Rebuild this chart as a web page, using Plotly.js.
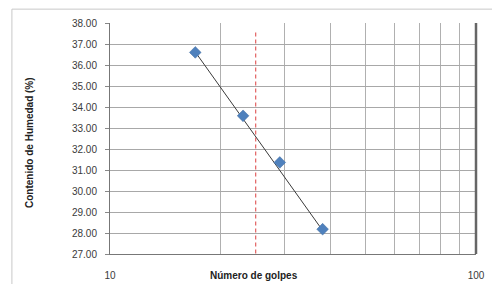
<!DOCTYPE html>
<html><head><meta charset="utf-8">
<script src="https://cdn.plot.ly/plotly-3.0.1.min.js"></script>
<style>html,body{margin:0;padding:0;background:#fff}</style>
</head><body><div id="chart" style="width:492px;height:284px"></div>
<script>
const golpes = [17.1, 23.1, 29.1, 38.1];
const humedad = [36.6, 33.58, 31.36, 28.18];
const trendX = [17.1, 38.1];
const trendY = [36.62, 28.12];
const refX = [25, 25];
const refY = [37.55, 27];
const xTickVals = [10, 100];
const xTickText = ['10', '100'];
const yTickVals = [27, 28, 29, 30, 31, 32, 33, 34, 35, 36, 37, 38];

const font = "'Liberation Sans', Arial, sans-serif";
const traces = [
  {x: refX, y: refY, mode: 'lines', line: {color: '#E46C6C', width: 1.3, dash: '4px,3px'}, hoverinfo: 'skip', showlegend: false},
  {x: trendX, y: trendY, mode: 'lines', line: {color: '#3a3a3a', width: 1}, showlegend: false},
  {x: golpes, y: humedad, mode: 'markers', marker: {symbol: 'diamond', size: 9, color: '#4F81BD', line: {color: '#3F6A9E', width: 0.5}}, showlegend: false}
];
const layout = {
  width: 492, height: 284,
  margin: {l: 110, r: 16, t: 23, b: 30},
  paper_bgcolor: '#fff', plot_bgcolor: '#fff',
  font: {family: font, size: 10, color: '#3a3a3a'},
  xaxis: {
    type: 'log', range: [1, 2], tickvals: xTickVals, ticktext: xTickText,
    showgrid: true, gridcolor: '#b0b0b0', gridwidth: 1,
    minor: {showgrid: true, gridcolor: '#b0b0b0', gridwidth: 1, dtick: 'D1', ticks: ''},
    showline: true, linecolor: '#777', linewidth: 1, mirror: false,
    ticks: '', ticklabelstandoff: 12, zeroline: false,
    tickfont: {size: 10}
  },
  yaxis: {
    range: [27, 38], tickvals: yTickVals, tickformat: '.2f',
    showgrid: true, gridcolor: '#a8a8a8', gridwidth: 1,
    showline: true, linecolor: '#777', linewidth: 1,
    ticks: 'outside', ticklen: 4, tickcolor: '#888', ticklabelstandoff: 6,
    tickfont: {size: 10},
    zeroline: false
  },
  shapes: [
    {type: 'line', xref: 'paper', yref: 'paper', x0: 1, x1: 1, y0: 0, y1: 1, line: {color: '#666', width: 2.5}},
    {type: 'line', xref: 'paper', yref: 'paper', x0: -0.268, x1: 1.05, y0: 1.06, y1: 1.06, line: {color: '#c8c8c8', width: 1}},
    {type: 'line', xref: 'paper', yref: 'paper', x0: -0.268, x1: -0.268, y0: 1.06, y1: -0.2, line: {color: '#c8c8c8', width: 1}}
  ],
  annotations: [
    {text: '<b>Número de golpes</b>', xref: 'paper', yref: 'paper', x: 0.393, y: -0.091, yanchor: 'middle', showarrow: false, font: {size: 10, color: '#222'}},
    {text: '<b>Contenido de Humedad (%)</b>', xref: 'paper', yref: 'paper', x: -0.2186, y: 0.485, xanchor: 'center', yanchor: 'middle', textangle: -90, showarrow: false, font: {size: 10, color: '#222'}}
  ]
};
Plotly.newPlot('chart', traces, layout, {displayModeBar: false, staticPlot: true});
</script></body></html>
